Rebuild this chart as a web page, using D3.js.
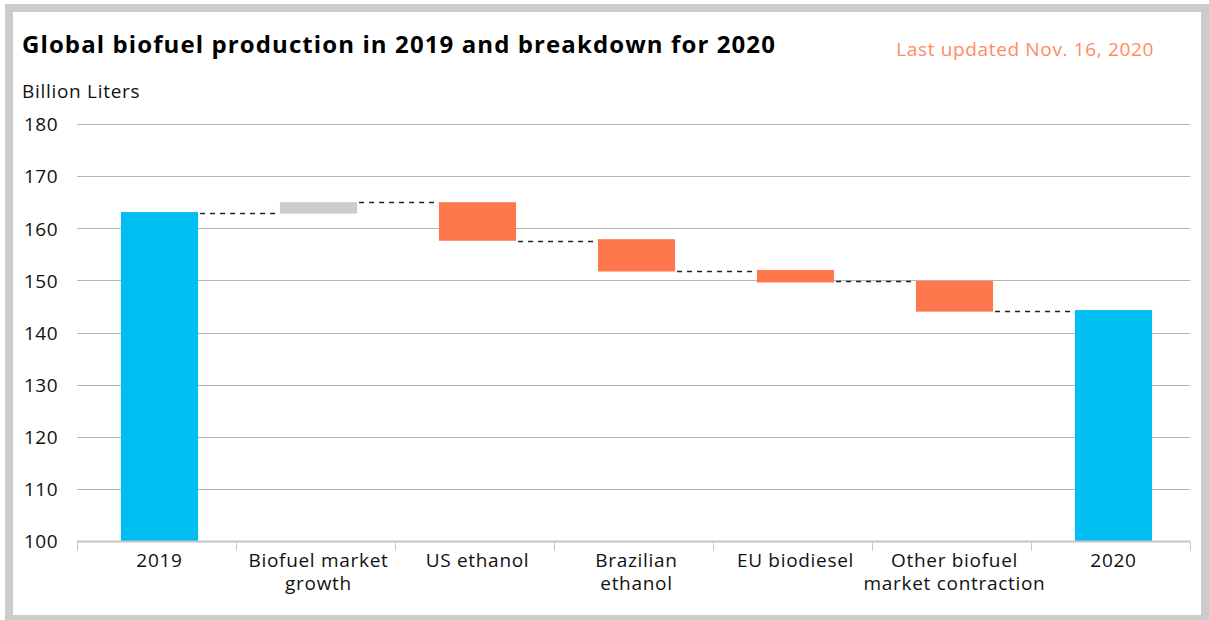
<!DOCTYPE html>
<html>
<head>
<meta charset="utf-8">
<script src="https://cdn.jsdelivr.net/npm/d3@7"></script>
<style>
  html, body { margin: 0; padding: 0; background: #fff; }
  svg { display: block; }
  text { font-family: "Open Sans", Lato, sans-serif; }
</style>
</head>
<body>
<svg id="chart" width="1209" height="620"></svg>
<script>
// ---- data ----
const categories = ["2019", "Biofuel market growth", "US ethanol", "Brazilian ethanol", "EU biodiesel", "Other biofuel market contraction", "2020"];
const labelLines = [["2019"], ["Biofuel market", "growth"], ["US ethanol"], ["Brazilian", "ethanol"], ["EU biodiesel"], ["Other biofuel", "market contraction"], ["2020"]];
const barLow  = [100, 162.8, 157.6, 151.7, 149.6, 144.0, 100];
const barHigh = [163.1, 165.0, 165.0, 157.9, 152.0, 149.9, 144.3];
const barKind = ["total", "increase", "decrease", "decrease", "decrease", "decrease", "total"];
const connectorLevels = [163.0, 165.0, 157.6, 151.8, 149.8, 144.1];
const yTicks = [100, 110, 120, 130, 140, 150, 160, 170, 180];

const colors = { total: "#00BEF2", increase: "#CCCCCC", decrease: "#FF774C" };

const svg = d3.select("#chart");

// frame
svg.append("rect").attr("x", 9).attr("y", 8).attr("width", 1196).attr("height", 611)
  .attr("fill", "none").attr("stroke", "#cccccc").attr("stroke-width", 8);

// titles
svg.append("text").attr("x", 22).attr("y", 53).attr("font-size", 24).attr("font-weight", 700)
  .attr("letter-spacing", 1.1)
  .attr("fill", "#000").text("Global biofuel production in 2019 and breakdown for 2020");
svg.append("text").attr("x", 1154).attr("y", 56).attr("text-anchor", "end").attr("font-size", 19)
  .attr("letter-spacing", 0.65)
  .attr("fill", "#FF8A63").text("Last updated Nov. 16, 2020");
svg.append("text").attr("x", 22).attr("y", 98).attr("font-size", 19).attr("letter-spacing", 0.7)
  .attr("fill", "#111").text("Billion Liters");

// scales
const x = d3.scaleBand().domain(categories).range([80, 1193]).paddingInner(0).paddingOuter(0);
const y = d3.scaleLinear().domain([100, 180]).range([541, 124]);
const barW = x.bandwidth() * 0.485;

// gridlines
svg.append("g").selectAll("line").data(yTicks.filter(d => d !== 100)).join("line")
  .attr("x1", 77).attr("x2", 1190)
  .attr("y1", d => Math.round(y(d)) + 0.5).attr("y2", d => Math.round(y(d)) + 0.5)
  .attr("stroke", "#b5b5b5").attr("stroke-width", 1);

// y axis labels
const yAxis = svg.append("g").attr("transform", "translate(58,0)")
  .call(d3.axisLeft(y).tickValues(yTicks).tickSize(0).tickPadding(0).tickFormat(d3.format("d")));
yAxis.select(".domain").remove();
yAxis.selectAll("text").attr("font-size", 19).attr("fill", "#111").attr("letter-spacing", 0.5)
  .attr("font-family", "'Open Sans', sans-serif").attr("dy", "0.36em");

// bars
svg.append("g").selectAll("rect").data(categories).join("rect")
  .attr("x", (d) => x(d) + (x.bandwidth() - barW) / 2)
  .attr("width", barW)
  .attr("y", (d, i) => y(barHigh[i]))
  .attr("height", (d, i) => y(barLow[i]) - y(barHigh[i]))
  .attr("fill", (d, i) => colors[barKind[i]]);

// connectors
svg.append("g").selectAll("line").data(connectorLevels).join("line")
  .attr("x1", (d, i) => x(categories[i]) + (x.bandwidth() + barW) / 2 + 2)
  .attr("x2", (d, i) => x(categories[i + 1]) + (x.bandwidth() - barW) / 2)
  .attr("y1", d => Math.round(y(d)) + 0.5).attr("y2", d => Math.round(y(d)) + 0.5)
  .attr("stroke", "#222").attr("stroke-width", 1.3).attr("stroke-dasharray", "5,5");

// x axis line and ticks
const axisY = Math.round(y(100)) + 0.5;
svg.append("line").attr("x1", 77).attr("x2", 1190).attr("y1", axisY).attr("y2", axisY)
  .attr("stroke", "#c4c4c4").attr("stroke-width", 2);
const boundaries = categories.map(c => x(c)).concat([x.range()[1]]);
svg.append("g").selectAll("line").data(boundaries).join("line")
  .attr("x1", d => Math.round(d) - 3 + 0.5).attr("x2", d => Math.round(d) - 3 + 0.5)
  .attr("y1", axisY).attr("y2", axisY + 9)
  .attr("stroke", "#c4c4c4").attr("stroke-width", 1);

// category labels (one text element per line)
const lineData = [];
categories.forEach((c, i) => labelLines[i].forEach((line, j) => lineData.push({ c, line, j })));
svg.append("g").selectAll("text").data(lineData).join("text")
  .attr("x", d => x(d.c) + x.bandwidth() / 2)
  .attr("y", d => 567 + d.j * 22.5)
  .attr("text-anchor", "middle").attr("font-size", 19).attr("letter-spacing", 0.7)
  .attr("fill", "#111").text(d => d.line);
</script>
</body>
</html>
